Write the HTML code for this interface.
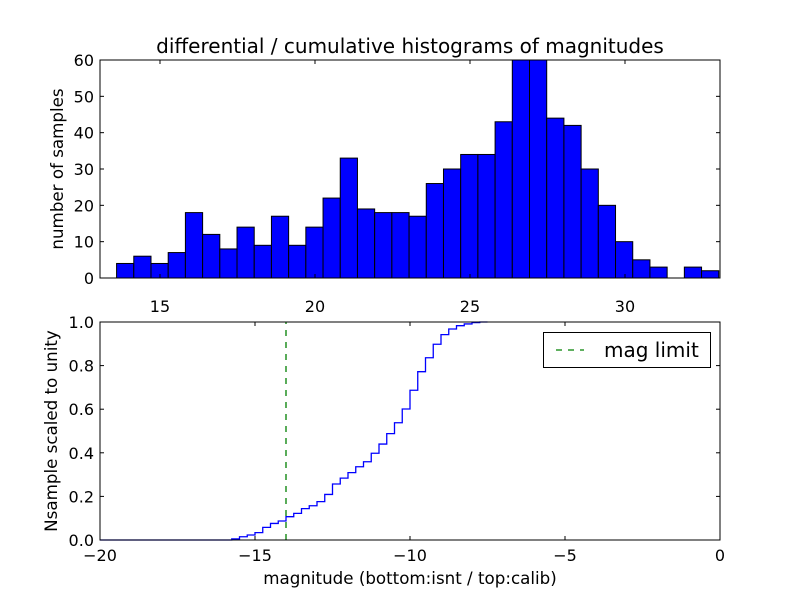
<!DOCTYPE html>
<html><head><meta charset="utf-8"><style>
body{margin:0;background:#fff;}
svg{font-family:"DejaVu Sans","Liberation Sans",sans-serif;}
</style></head><body>
<svg id="c" width="800" height="600" viewBox="0 0 800 600">
<rect width="800" height="600" fill="#fff"/>
<text x="410" y="53" font-size="20" text-anchor="middle">differential / cumulative histograms of magnitudes</text>
<g id="topAx"></g>
<g id="botAx"></g>
<text transform="translate(63,169) rotate(-90)" font-size="16.7" text-anchor="middle">number of samples</text>
<text transform="translate(57,431) rotate(-90)" font-size="16.7" text-anchor="middle">Nsample scaled to unity</text>
<text x="410" y="584" font-size="16.7" text-anchor="middle">magnitude (bottom:isnt / top:calib)</text>
</svg>
<script>
const histCounts=[4,6,4,7,18,12,8,14,9,17,9,14,22,33,19,18,18,17,26,30,34,34,43,65,65,44,42,30,20,10,5,3,0,3,2];
const histStart=13.6, histBinWidth=0.555;
const topXTicks=[15,20,25,30];
const topYTicks=[0,10,20,30,40,50,60];
const cumLevels=[0.005,0.015,0.023,0.034,0.058,0.076,0.087,0.107,0.122,0.144,0.157,0.176,0.209,0.257,0.284,0.309,0.336,0.359,0.398,0.44,0.488,0.538,0.601,0.687,0.772,0.836,0.898,0.942,0.968,0.983,0.991,0.997,1.0];
const cumStart=-15.75, cumStep=0.25;
const magLimit=-14;
const botXTicks=[-20,-15,-10,-5,0];
const botYTicks=[0.0,0.2,0.4,0.6,0.8,1.0];
const NS="http://www.w3.org/2000/svg";
function mk(p,t,a){const e=document.createElementNS(NS,t);for(const k in a)e.setAttribute(k,a[k]);p.appendChild(e);return e;}
const L=100,R=720;
const tx=v=>L+(v-13.065)*31, ty=v=>278-v*(218/60);
const topG=document.getElementById('topAx');
const clip=mk(topG,'clipPath',{id:'ct'});mk(clip,'rect',{x:L,y:60,width:620,height:218});
const bars=mk(topG,'g',{'clip-path':'url(#ct)'});
histCounts.forEach((c,i)=>{const x0=tx(histStart+i*histBinWidth),x1=tx(histStart+(i+1)*histBinWidth);
 const r=mk(bars,'rect',{x:x0,y:ty(c),width:x1-x0,height:ty(0)-ty(c),fill:'#0000ff',stroke:'#000','stroke-width':1});
 
 });
mk(topG,'rect',{x:L,y:60,width:620,height:218,fill:'none',stroke:'#000','stroke-width':1});
topXTicks.forEach(v=>{const x=tx(v);mk(topG,'line',{x1:x,x2:x,y1:278,y2:274,stroke:'#000'});mk(topG,'line',{x1:x,x2:x,y1:60,y2:64,stroke:'#000'});
 const t=mk(topG,'text',{x:x,y:312,'font-size':16,'text-anchor':'middle'});t.textContent=v;
 
 });
topYTicks.forEach(v=>{const y=ty(v);mk(topG,'line',{x1:L,x2:L+4,y1:y,y2:y,stroke:'#000'});mk(topG,'line',{x1:R,x2:R-4,y1:y,y2:y,stroke:'#000'});
 const t=mk(topG,'text',{x:94,y:y+6,'font-size':16,'text-anchor':'end'});t.textContent=v;
 
 });
const bx=v=>L+(v+20)*31, by=v=>540-v*218;
const botG=document.getElementById('botAx');
let d=`M${bx(-20)},${by(0)} L${bx(cumStart)},${by(0)}`;
cumLevels.forEach((v,i)=>{const x0=bx(cumStart+i*cumStep),x1=bx(cumStart+(i+1)*cumStep);d+=` L${x0},${by(v)} L${x1},${by(v)}`;});
const cp=mk(botG,'path',{d:d,fill:'none',stroke:'#0000ff','stroke-width':1.3});


const ml=mk(botG,'line',{x1:bx(magLimit),x2:bx(magLimit),y1:by(0),y2:by(1),stroke:'#008000','stroke-width':1.3,'stroke-dasharray':'6,6'});


mk(botG,'rect',{x:L,y:322,width:620,height:218,fill:'none',stroke:'#000','stroke-width':1});
botXTicks.forEach(v=>{const x=bx(v);mk(botG,'line',{x1:x,x2:x,y1:540,y2:536,stroke:'#000'});mk(botG,'line',{x1:x,x2:x,y1:322,y2:326,stroke:'#000'});
 const t=mk(botG,'text',{x:x,y:561,'font-size':16,'text-anchor':'middle'});t.textContent=(v<0?'\u2212'+(-v):v);
 
 });
botYTicks.forEach(v=>{const y=by(v);mk(botG,'line',{x1:L,x2:L+4,y1:y,y2:y,stroke:'#000'});mk(botG,'line',{x1:R,x2:R-4,y1:y,y2:y,stroke:'#000'});
 const t=mk(botG,'text',{x:94,y:y+6,'font-size':16,'text-anchor':'end'});t.textContent=v.toFixed(1);
 
 });
const lg=mk(botG,'g',{});


mk(lg,'rect',{x:543.5,y:332.5,width:167,height:35,fill:'#fff',stroke:'#000'});
mk(lg,'line',{x1:556,x2:584,y1:350,y2:350,stroke:'#008000','stroke-width':1.3,'stroke-dasharray':'6,6'});
const lt=mk(lg,'text',{x:604,y:357,'font-size':20});lt.textContent='mag limit';


</script>
</body></html>
